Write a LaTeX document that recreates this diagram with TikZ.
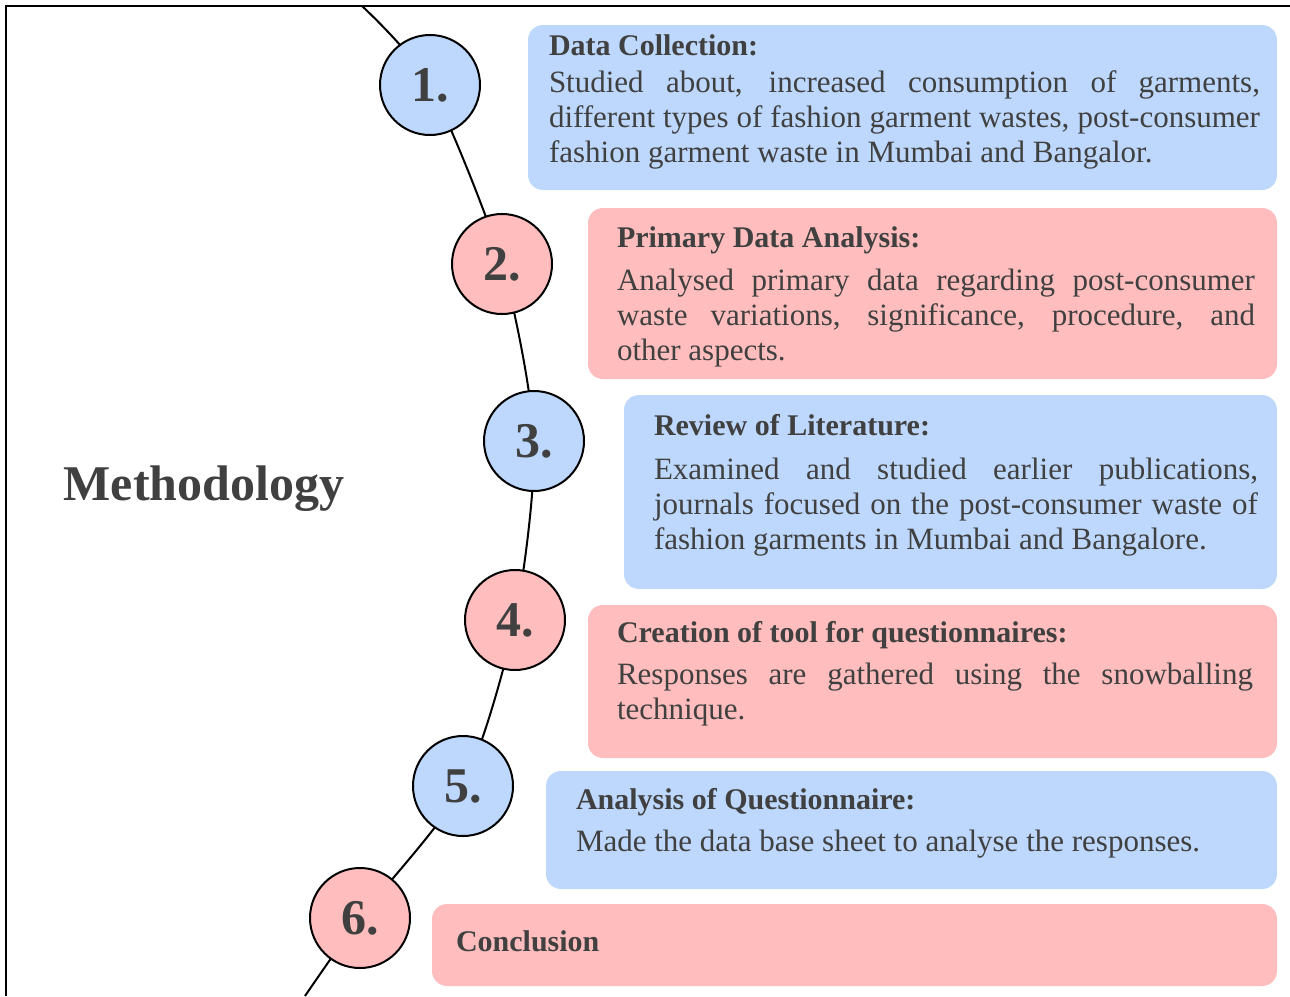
\documentclass[tikz,border=0pt]{standalone}
\usepackage{fontspec}
\setmainfont{Liberation Serif}
\usepackage{xcolor}
\usetikzlibrary{positioning}
\definecolor{cardblue}{HTML}{BDD8FC}
\definecolor{cardred}{HTML}{FFBDBD}
\definecolor{inkgray}{HTML}{404040}

\begin{document}
\begin{tikzpicture}[x=1pt, y=-1pt, line width=2pt,
  card/.style={rounded corners=15pt, anchor=north west, inner sep=0pt},
  stepnum/.style={circle, draw=black, minimum size=100pt, inner sep=0pt,
    text=inkgray, font=\fontsize{50}{50}\selectfont\bfseries},
  cardtitle/.style={anchor=base west, inner sep=0pt, text=inkgray,
    font=\fontsize{30}{35}\selectfont\bfseries},
  cardbody/.style={anchor=base west, inner sep=0pt, align=justify, text=inkgray,
    font=\fontsize{31}{35}\selectfont}]

\useasboundingbox (0,0) rectangle (1290,996);

% ---------------- frame (top and left only) -------------------------------
\draw (6,996) -- (6,6) -- (1290,6);

% ---------------- the bent line through the steps -------------------------
\coordinate (top) at (362,6);
\coordinate (c1) at (430,85);
\coordinate (c2) at (502,264);
\coordinate (c3) at (534,441);
\coordinate (c4) at (515,620);
\coordinate (c5) at (463,786);
\coordinate (c6) at (360,918);
\coordinate (bot) at (305,996);
\draw plot[smooth, tension=0.45] coordinates {(top) (c1) (c2) (c3) (c4) (c5) (c6) (bot)};

\node[text=inkgray, font=\fontsize{50}{50}\selectfont\bfseries] (method) at (204,489) {Methodology};

% ---------------- step circles ---------------------------------------------
\node[stepnum, fill=cardblue] (s1) at (c1) {1.};
\node[stepnum, fill=cardred]  (s2) at (c2) {2.};
\node[stepnum, fill=cardblue] (s3) at (c3) {3.};
\node[stepnum, fill=cardred]  (s4) at (c4) {4.};
\node[stepnum, fill=cardblue] (s5) at (c5) {5.};
\node[stepnum, fill=cardred]  (s6) at (c6) {6.};

% ---------------- cards ----------------------------------------------------
\node[card, fill=cardblue, minimum width=749pt, minimum height=165pt] (box1) at (527,24) {};
\node[cardtitle] (head1) at (548,55) {Data Collection:};
\node[cardbody, text width=711pt] (body1) at (548,92)
  {Studied about, increased consumption of garments,\linebreak
   different types of fashion garment wastes, post-consumer\linebreak
   fashion garment waste in Mumbai and Bangalor.};

\node[card, fill=cardred, minimum width=689pt, minimum height=171pt] (box2) at (587,207) {};
\node[cardtitle] (head2) at (616,247) {Primary Data Analysis:};
\node[cardbody, text width=638pt] (body2) at (616,290)
  {Analysed primary data regarding post-consumer\linebreak
   waste variations, significance, procedure, and\linebreak
   other aspects.};

\node[card, fill=cardblue, minimum width=653pt, minimum height=194pt] (box3) at (623,394) {};
\node[cardtitle] (head3) at (653,435) {Review of Literature:};
\node[cardbody, text width=604pt] (body3) at (653,479)
  {Examined and studied earlier publications,\linebreak
   journals focused on the post-consumer waste of\linebreak
   fashion garments in Mumbai and Bangalore.};

\node[card, fill=cardred, minimum width=689pt, minimum height=153pt] (box4) at (587,604) {};
\node[cardtitle] (head4) at (616,642) {Creation of tool for questionnaires:};
\node[cardbody, text width=636pt] (body4) at (616,684)
  {Responses are gathered using the snowballing\linebreak
   technique.};

\node[card, fill=cardblue, minimum width=731pt, minimum height=118pt] (box5) at (545,770) {};
\node[cardtitle] (head5) at (575,809) {Analysis of Questionnaire:};
\node[cardbody, text width=680pt] (body5) at (575,851)
  {Made the data base sheet to analyse the responses.};

\node[card, fill=cardred, minimum width=845pt, minimum height=82pt] (box6) at (431,903) {};
\node[cardtitle] (head6) at (455,951) {Conclusion};

\end{tikzpicture}
\end{document}
